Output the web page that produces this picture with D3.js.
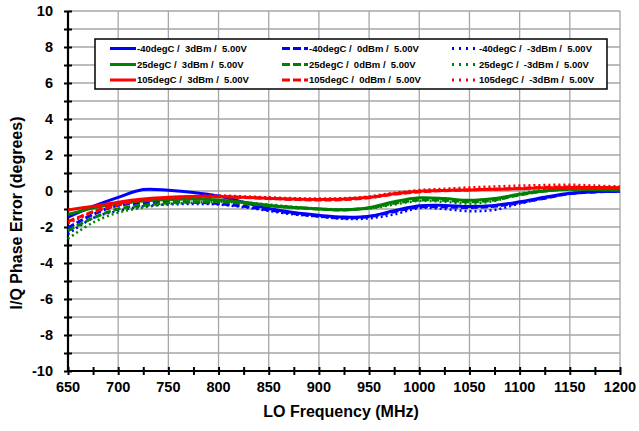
<!DOCTYPE html>
<html><head><meta charset="utf-8">
<script src="https://cdn.jsdelivr.net/npm/d3@7"></script>
<style>html,body{margin:0;padding:0;background:#fff;}svg{display:block;font-family:Arial,"Liberation Sans",sans-serif;} .lgt{white-space:pre;}</style>
</head><body>
<svg id="c" width="639" height="431"></svg>
<script>
const freqs = [650,675,700,725,750,775,800,825,850,875,900,925,950,975,1000,1025,1050,1075,1100,1125,1150,1175,1200];
const blueSolid  = [-1.45,-0.85,-0.35,0.08,0.04,-0.08,-0.28,-0.62,-0.97,-1.2,-1.35,-1.45,-1.4,-1.1,-0.82,-0.8,-0.86,-0.8,-0.6,-0.35,-0.13,-0.04,-0.02];
const blueDash   = [-2.05,-1.3,-0.8,-0.65,-0.6,-0.62,-0.7,-0.85,-1.05,-1.25,-1.4,-1.5,-1.42,-1.15,-0.88,-0.88,-0.92,-0.85,-0.65,-0.4,-0.15,-0.05,-0.02];
const blueDot    = [-2.4,-1.5,-1.1,-0.85,-0.75,-0.72,-0.75,-0.9,-1.1,-1.3,-1.42,-1.55,-1.52,-1.3,-0.95,-1.0,-1.12,-1.05,-0.7,-0.4,-0.15,-0.05,-0.02];
const greenSolid = [-1.3,-0.95,-0.68,-0.55,-0.47,-0.45,-0.5,-0.62,-0.8,-0.92,-1.0,-1.04,-0.93,-0.6,-0.38,-0.42,-0.52,-0.42,-0.18,0.0,0.1,0.08,0.05];
const greenDash  = [-2.2,-1.5,-1.0,-0.8,-0.65,-0.6,-0.6,-0.68,-0.82,-0.92,-1.0,-1.05,-0.95,-0.68,-0.5,-0.52,-0.6,-0.5,-0.22,0.0,0.1,0.08,0.05];
const greenDot   = [-2.65,-1.75,-1.2,-0.92,-0.72,-0.65,-0.6,-0.65,-0.75,-0.88,-0.98,-1.02,-0.98,-0.75,-0.55,-0.6,-0.7,-0.55,-0.15,0.05,0.12,0.08,0.05];
const redSolid   = [-1.05,-0.85,-0.62,-0.45,-0.35,-0.3,-0.3,-0.35,-0.4,-0.45,-0.47,-0.45,-0.35,-0.15,-0.02,0.03,0.06,0.1,0.13,0.18,0.2,0.2,0.18];
const redDash    = [-1.7,-1.15,-0.75,-0.5,-0.4,-0.33,-0.32,-0.36,-0.42,-0.47,-0.5,-0.48,-0.38,-0.18,-0.05,0.02,0.06,0.1,0.15,0.2,0.22,0.2,0.18];
const redDot     = [-1.8,-1.2,-0.8,-0.5,-0.37,-0.28,-0.25,-0.3,-0.35,-0.4,-0.42,-0.4,-0.3,-0.1,0.05,0.12,0.2,0.25,0.3,0.33,0.35,0.3,0.25];
const seriesNames = ["-40degC /  3dBm /  5.00V","-40degC /  0dBm /  5.00V","-40degC /  -3dBm /  5.00V",
  "25degC /  3dBm /  5.00V","25degC /  0dBm /  5.00V","25degC /  -3dBm /  5.00V",
  "105degC /  3dBm /  5.00V","105degC /  0dBm /  5.00V","105degC /  -3dBm /  5.00V"];
const xTicks = [650,700,750,800,850,900,950,1000,1050,1100,1150,1200];
const yTicks = [-10,-8,-6,-4,-2,0,2,4,6,8,10];
const xTitle = "LO Frequency (MHz)";
const yTitle = "I/Q Phase Error (degrees)";

const seriesData = [blueSolid,blueDash,blueDot,greenSolid,greenDash,greenDot,redSolid,redDash,redDot];
const colors = ["#0000FF","#0000FF","#0000FF","#008000","#008000","#008000","#FF0000","#FF0000","#FF0000"];
const dashes = [null,"7,3","2,3",null,"7,3","2,3",null,"7,3","2,3"];

const svg = d3.select("#c");
const L=68, R=620, T=11, B=371;
const x = d3.scaleLinear().domain([650,1200]).range([L,R]);
const y = d3.scaleLinear().domain([-10,10]).range([B,T]);

// gridlines
const g = svg.append("g");
g.selectAll("line.h").data(d3.range(-9,11)).enter().append("line")
  .attr("x1",L).attr("x2",R).attr("y1",d=>y(d)).attr("y2",d=>y(d))
  .attr("stroke","#a6a6a6").attr("stroke-width",1.3);
g.selectAll("line.v").data(xTicks.slice(1)).enter().append("line")
  .attr("x1",d=>x(d)).attr("x2",d=>x(d)).attr("y1",T).attr("y2",B)
  .attr("stroke","#a6a6a6").attr("stroke-width",1.3);

// axes
const xAxis = d3.axisBottom(x).tickValues(d3.range(650,1201,25)).tickSize(4).tickFormat("");
const xa = svg.append("g").attr("transform",`translate(0,${B})`).call(xAxis);
xa.select(".domain").remove();
xa.selectAll(".tick line").attr("y1",-4).attr("y2",4).attr("stroke","#000").attr("stroke-width",2);
const yAxis = d3.axisLeft(y).tickValues(d3.range(-10,11,1)).tickSize(4).tickFormat("");
const ya = svg.append("g").attr("transform",`translate(${L},0)`).call(yAxis);
ya.select(".domain").remove();
ya.selectAll(".tick line").attr("x1",-4).attr("x2",4).attr("stroke","#000").attr("stroke-width",2);

svg.append("line").attr("x1",L).attr("x2",L).attr("y1",T).attr("y2",B).attr("stroke","#000").attr("stroke-width",2.2);
svg.append("line").attr("x1",L-1).attr("x2",R).attr("y1",B).attr("y2",B).attr("stroke","#000").attr("stroke-width",2.2);

// tick labels
svg.selectAll("text.yt").data(yTicks).enter().append("text")
  .attr("x",L-15).attr("y",d=>y(d)).attr("dy","0.36em").attr("text-anchor","end")
  .attr("font-size",14.5).attr("font-weight","bold").text(d=>d);
svg.selectAll("text.xt").data(xTicks).enter().append("text")
  .attr("x",d=>x(d)).attr("y",B+21).attr("text-anchor","middle")
  .attr("font-size",14.5).attr("font-weight","bold").text(d=>d);

svg.append("text").attr("x",341).attr("y",417).attr("text-anchor","middle")
  .attr("font-size",16).attr("font-weight","bold").text(xTitle);
svg.append("text").attr("transform","translate(22,213) rotate(-90)").attr("text-anchor","middle")
  .attr("font-size",16).attr("font-weight","bold").text(yTitle);

// lines
const line = d3.line().x((d,i)=>x(freqs[i])).y(d=>y(d)).curve(d3.curveCatmullRom.alpha(0.5));
seriesData.forEach((s,i)=>{
  const p = svg.append("path").attr("d",line(s)).attr("fill","none")
    .attr("stroke",colors[i]).attr("stroke-width",dashes[i]==="2,3"?2.5:3);
  if(dashes[i]) p.attr("stroke-dasharray",dashes[i]);
});

// legend
const lg = svg.append("g");
lg.append("rect").attr("x",95).attr("y",39).attr("width",512).attr("height",50)
  .attr("fill","#fff").attr("stroke","#000").attr("stroke-width",1.5);
const colX = [110,282,452];
const rowY = [48.5,64.5,80];
seriesNames.forEach((n,i)=>{
  const r = Math.floor(i/3), c = i%3;
  const ln = lg.append("line").attr("x1",colX[c]).attr("x2",colX[c]+26).attr("y1",rowY[r]).attr("y2",rowY[r])
    .attr("stroke",colors[i]).attr("stroke-width",3);
  if(dashes[i]) ln.attr("stroke-dasharray",dashes[i]==="2,3"?"2,5":"8,3");
  lg.append("text").attr("class","lgt").attr("x",colX[c]+27).attr("y",rowY[r]).attr("dy","0.35em")
    .attr("font-size",9.5).attr("font-weight","bold").text(n);
});
</script>
</body></html>
